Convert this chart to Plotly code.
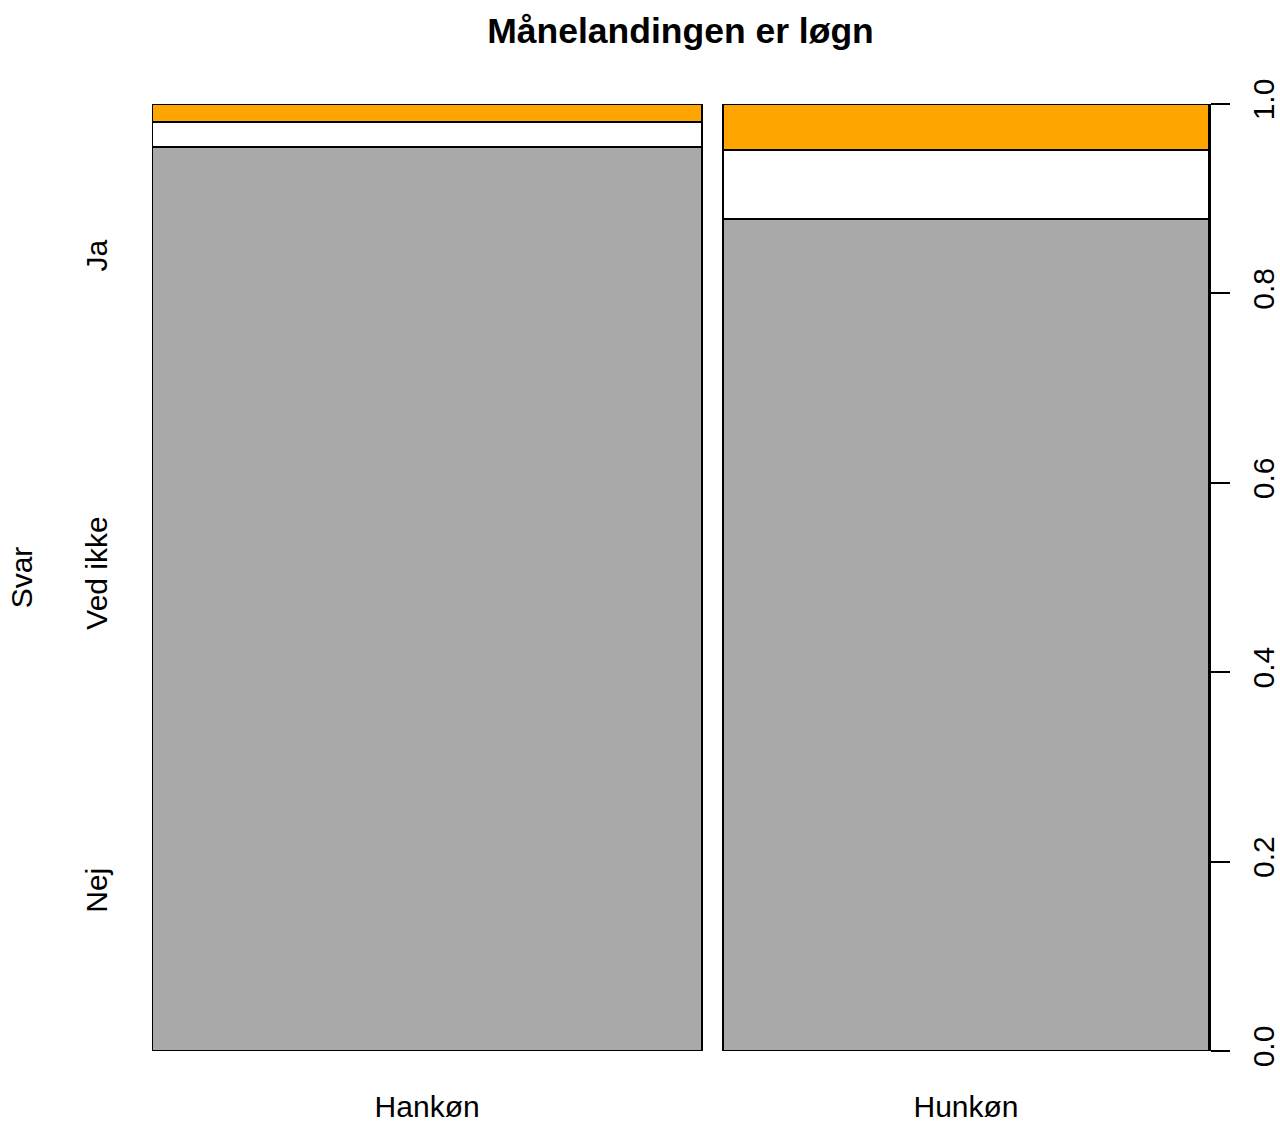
import plotly.graph_objects as go

# spineplot: Månelandingen er løgn, split by gender
genders = ["Hankøn", "Hunkøn"]
gender_share = [0.531, 0.469]          # column widths (share of respondents)
answers = ["Nej", "Ved ikke", "Ja"]
answer_colors = ["#A9A9A9", "#FFFFFF", "#FFA500"]
props = {
    "Nej": [0.955, 0.879],
    "Ved ikke": [0.026, 0.072],
    "Ja": [0.019, 0.049],
}
answer_label_pos = [0.165, 0.5, 0.835]
gap = 0.02

# column positions along x
lefts = []
pos = 0.0
for w in gender_share:
    lefts.append(pos)
    pos += w + gap
centers = [l + w / 2 for l, w in zip(lefts, gender_share)]
xmax = pos - gap

fig = go.Figure()
for ans, col in zip(answers, answer_colors):
    fig.add_trace(go.Bar(
        x=centers, y=props[ans], width=gender_share,
        marker=dict(color=col, line=dict(color="black", width=2)),
        name=ans, showlegend=False, hoverinfo="skip",
    ))

font = "Liberation Sans, Arial, Helvetica, sans-serif"
fig.update_layout(
    barmode="stack",
    width=1280, height=1122,
    margin=dict(l=152, r=71, t=104, b=71),
    plot_bgcolor="white", paper_bgcolor="white",
    font=dict(family=font, size=30, color="black"),
    title=dict(text="<b>Månelandingen er løgn</b>", xref="paper", x=0.5, xanchor="center",
               y=1 - 31 / 1122, yanchor="middle", font=dict(size=35.5)),
    xaxis=dict(range=[0, xmax], tickvals=centers, ticktext=genders,
               showgrid=False, zeroline=False, showline=False, automargin=False,
               ticks="outside", ticklen=29, tickcolor="rgba(0,0,0,0)"),
    yaxis=dict(range=[0, 1], side="right", tickvals=[0, 0.2, 0.4, 0.6, 0.8, 1.0],
               ticktext=["0.0", "0.2", "0.4", "0.6", "0.8", "1.0"], tickangle=-90,
               ticks="outside", ticklen=19, tickwidth=1.5, tickcolor="black",
               ticklabelstandoff=8,
               showline=True, linecolor="black", linewidth=1.5, automargin=False,
               showgrid=False, zeroline=False),
    yaxis2=dict(range=[0, 1], overlaying="y", side="left", anchor="x",
                tickvals=answer_label_pos, ticktext=answers, tickangle=-90,
                ticks="outside", ticklen=32, tickcolor="rgba(0,0,0,0)",
                showgrid=False, zeroline=False, showline=False, automargin=False,
                title=dict(text="Svar", standoff=38, font=dict(size=30))),
)
# dummy trace to activate the left label axis
fig.add_trace(go.Scatter(x=[None], y=[None], yaxis="y2", showlegend=False))

# drop the default page margin so the figure sits at the window corner
fig.write_html("out.html", config={"displayModeBar": False},
               post_script="document.body.style.margin='0';document.body.style.overflow='hidden';")
